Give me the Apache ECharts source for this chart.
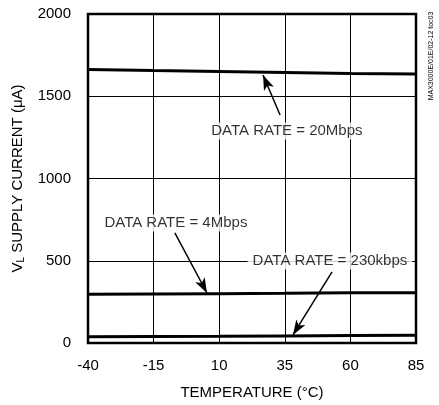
<!DOCTYPE html>
<html>
<head>
<meta charset="utf-8">
<script src="https://cdn.jsdelivr.net/npm/echarts@6/dist/echarts.min.js"></script>
<style>
html,body{margin:0;padding:0;background:#fff;}
#c{width:439px;height:405px;}
</style>
</head>
<body>
<div id="c"></div>
<script>
var temps = [-40, -15, 10, 35, 60, 85];
var rate20M = [1662, 1656, 1651, 1645, 1639, 1635];
var rate4M = [296, 298, 300, 302, 305, 306];
var rate230k = [38, 40, 41, 43, 45, 47];
var xTicks = [-40, -15, 10, 35, 60, 85];
var yTicks = [0, 500, 1000, 1500, 2000];

var labelTexts = ['DATA RATE = 20Mbps', 'DATA RATE = 4Mbps', 'DATA RATE = 230kbps'];
var labelPos = [[35.8, 1289], [-6.5, 729], [52.2, 498]];
var arrowTail = [[33.2, 1386], [-6.9, 669], [53.0, 432]];
var arrowTip = [[26.7, 1629], [5.35, 304], [38.1, 49]];

var FONT = '"Liberation Sans", Arial, sans-serif';

function pairs(vals) { return temps.map(function (t, i) { return [t, vals[i]]; }); }

var arrows = arrowTail.map(function (t, i) {
  return [{ coord: t }, { coord: arrowTip[i] }];
});

var chart = echarts.init(document.getElementById('c'), null, { renderer: 'canvas' });
chart.setOption({
  animation: false,
  backgroundColor: '#fff',
  textStyle: { fontFamily: FONT },
  grid: { left: 88, top: 14, right: 23, bottom: 62, containLabel: false, outerBoundsMode: 'none',
    show: true, borderColor: '#000', borderWidth: 2.5, backgroundColor: 'transparent' },
  xAxis: {
    type: 'value', min: -40, max: 85, interval: 25,
    name: 'TEMPERATURE (°C)', nameLocation: 'middle', nameGap: 42,
    nameTextStyle: { fontFamily: FONT, fontSize: 15, color: '#000' },
    axisLine: { show: false }, axisTick: { show: false },
    axisLabel: { fontFamily: FONT, fontSize: 15, color: '#000', margin: 15,
      formatter: function (v) { return xTicks.indexOf(v) >= 0 ? String(v) : ''; } },
    splitLine: { show: true, lineStyle: { color: '#000', width: 1 } }
  },
  yAxis: {
    type: 'value', min: 0, max: 2000, interval: 500,
    name: '{v|V}{s|L}{v| SUPPLY CURRENT (μA)}', nameLocation: 'middle', nameGap: 53,
    nameTextStyle: {
      rich: {
        v: { fontFamily: FONT, fontSize: 15, color: '#000' },
        s: { fontFamily: FONT, fontSize: 10, color: '#000', verticalAlign: 'bottom', padding: [8, 0, 0, 0] }
      }
    },
    axisLine: { show: false }, axisTick: { show: false },
    axisLabel: { fontFamily: FONT, fontSize: 15, color: '#000', margin: 17,
      formatter: function (v) { return yTicks.indexOf(v) >= 0 ? String(v) : ''; } },
    splitLine: { show: true, lineStyle: { color: '#000', width: 1 } }
  },
  series: [
    { type: 'line', data: pairs(rate20M), symbol: 'none', lineStyle: { color: '#000', width: 3 }, z: 3 },
    { type: 'line', data: pairs(rate4M), symbol: 'none', lineStyle: { color: '#000', width: 3 }, z: 3 },
    { type: 'line', data: pairs(rate230k), symbol: 'none', lineStyle: { color: '#000', width: 3 }, z: 3,
      markLine: {
        silent: true, symbol: ['none', 'arrow'], symbolSize: [8, 15],
        lineStyle: { color: '#000', width: 1.5, type: 'solid' },
        label: { show: false },
        data: arrows
      }
    },
    {
      type: 'scatter', symbolSize: 0, z: 5, silent: true,
      data: labelPos.map(function (p, i) { return { value: p, name: labelTexts[i] }; }),
      label: {
        show: true, position: 'inside', formatter: '{b}',
        fontFamily: FONT, fontSize: 15, color: '#000',
        backgroundColor: '#fff', padding: [1, 5]
      }
    }
  ],
  graphic: [
    {
      type: 'text', x: 431, y: 56, rotation: Math.PI / 2, origin: [0, 0],
      style: { text: 'MAX3000E/01E/02-12 toc03', font: '7px ' + FONT, fill: '#000', align: 'center', verticalAlign: 'middle' }
    }
  ]
});
</script>
</body>
</html>
